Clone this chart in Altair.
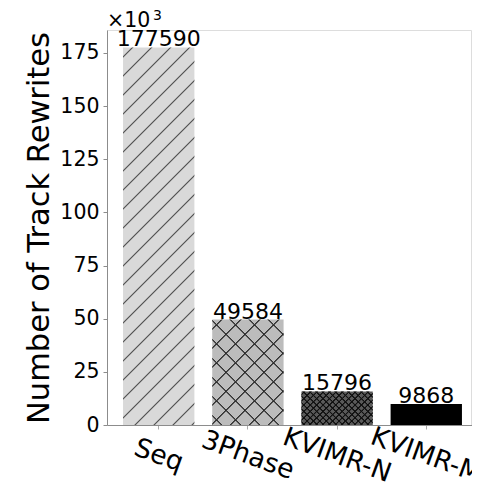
import altair as alt
import pandas as pd

# ---- data ----
categories = ["Seq", "3Phase", "KVIMR-N", "KVIMR-M"]
rewrites = [177590, 49584, 15796, 9868]
y_ticks = [0, 25, 50, 75, 100, 125, 150, 175]
scale_base = ["×10"]
scale_exp = ["3"]

# ---- styles ----
bar_fills = ["#d9d9d9", "#bcbcbc", "#5a5a5a", "#000000"]
FONT = "DejaVu Sans"
X_RANGE = 371          # pixel span of the band scale
PLOT_W, PLOT_H = 364, 395
Y_MAX = 185.8
BAND_PAD_IN, BAND_PAD_OUT = 0.2, 0.18

df = pd.DataFrame({"cat": categories, "val": rewrites})

# pixel size of a bar (used only to orient the hatching gradients at 45 degrees)
step = X_RANGE / (len(categories) - BAND_PAD_IN + 2 * BAND_PAD_OUT)
BW = step * (1 - BAND_PAD_IN)
PX = PLOT_H / Y_MAX


def hatch(cat, spacing, direction, color="#333333", half=0.45, soft=0.7):
    W = BW
    H = rewrites[categories.index(cat)] / 1000.0 * PX
    total = W + H
    c = total / (W * W + H * H)
    stops = [alt.GradientStop(offset=0, color="transparent")]
    s = spacing / 2.0
    while s < total:
        a, b, cc, d = s - half - soft, s - half, s + half, s + half + soft
        if a > 0 and d < total:
            for off, col in ((a, "transparent"), (b, color), (cc, color), (d, "transparent")):
                stops.append(alt.GradientStop(offset=off / total, color=col))
        s += spacing
    stops.append(alt.GradientStop(offset=1, color="transparent"))
    if direction == "/":
        return alt.LinearGradient(gradient="linear", stops=stops, x1=0, y1=0, x2=c * W, y2=c * H)
    return alt.LinearGradient(gradient="linear", stops=stops, x1=0, y1=1, x2=c * W, y2=1 - c * H)


x_enc = alt.X(
    "cat:N",
    sort=categories,
    title=None,
    scale=alt.Scale(paddingInner=BAND_PAD_IN, paddingOuter=BAND_PAD_OUT, range=[0, X_RANGE]),
    axis=alt.Axis(
        labelAngle=20,
        labelAlign="center",
        labelBaseline="middle",
        labelPadding=26,
        labelFontSize=26.5,
        labelFont=FONT,
        labelColor="#000000",
        labelOverlap=False,
        labelBound=False,
        labelFlush=False,
        tickSize=4,
        tickColor="#aaaaaa",
        domainColor="#8c8c8c",
    ),
)
y_enc = alt.Y(
    "k:Q",
    scale=alt.Scale(domain=[0, Y_MAX], nice=False, zero=True),
    axis=alt.Axis(
        values=y_ticks,
        title="Number of Track Rewrites",
        titleFontSize=30.5,
        titleFont=FONT,
        titleFontWeight="normal",
        titleColor="#000000",
        titleAngle=270,
        titleAlign="center",
        titleBaseline="alphabetic",
        titleX=-59,
        titleY=PLOT_H / 2,
        labelFontSize=20.5,
        labelFont=FONT,
        labelColor="#000000",
        labelPadding=4,
        tickSize=4,
        tickColor="#8c8c8c",
        domainColor="#8c8c8c",
        grid=False,
    ),
)

base = alt.Chart(df).transform_calculate(k="datum.val / 1000").encode(x=x_enc, y=y_enc)

bars = base.mark_bar(strokeWidth=0).encode(
    color=alt.Color("cat:N", scale=alt.Scale(domain=categories, range=bar_fills), legend=None)
)

overlays = []
for cat, spacing, dirs, col in [
    ("Seq", 19, ["/"], "#555555"),
    ("3Phase", 19, ["/", "\\"], "#333333"),
    ("KVIMR-N", 6.4, ["/", "\\"], "#111111"),
]:
    for d in dirs:
        overlays.append(
            base.transform_filter(alt.datum.cat == cat).mark_bar(
                fill=hatch(cat, spacing, d, color=col),
                strokeWidth=0,
            )
        )

labels = base.mark_text(
    baseline="alphabetic", align="center", dy=-1, fontSize=22, font=FONT, color="#000000"
).encode(text=alt.Text("val:Q", format="d"))

# axis multiplier note (×10^3) in the top-left corner of the plot frame
note_base = alt.Chart(pd.DataFrame({"t": scale_base})).mark_text(
    align="left", baseline="alphabetic", fontSize=20.5, font=FONT, color="#000000"
).encode(x=alt.value(0), y=alt.value(-3), text="t:N")
note_exp = alt.Chart(pd.DataFrame({"t": scale_exp})).mark_text(
    align="left", baseline="top", fontSize=14, font=FONT, color="#000000"
).encode(x=alt.value(46), y=alt.value(-21), text="t:N")

chart = (
    alt.layer(bars, *overlays, labels, note_base, note_exp)
    .properties(
        width=PLOT_W,
        height=PLOT_H,
        autosize=alt.AutoSizeParams(type="none"),
        padding={"left": 99, "top": 22, "right": 1, "bottom": 63},
    )
    .configure_view(stroke="#999999", strokeWidth=1)
    .configure(background="white")
)

chart.save("out.html", embed_options={"renderer": "svg", "actions": False})
